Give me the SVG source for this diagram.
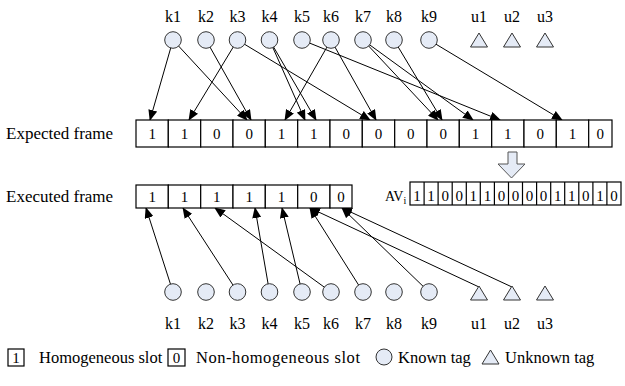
<svg xmlns="http://www.w3.org/2000/svg" width="625" height="386" viewBox="0 0 625 386">
  <defs>
    <marker id="arrow" markerUnits="userSpaceOnUse" markerWidth="11" markerHeight="9" refX="10" refY="4.5" orient="auto">
      <path d="M0,0 L11,4.5 L0,9 Z" fill="#000"/>
    </marker>
  </defs>
  <style>
    text { font-family: "Liberation Serif", "Times New Roman", serif; fill: #000; }
    .lbl { font-size: 16px; text-anchor: middle; }
    .big { font-size: 17px; }
    .dig { font-size: 15px; text-anchor: middle; }
    .leg { font-size: 16.5px; }
    .cell { fill: #fff; stroke: #000; stroke-width: 1.2; }
    .tag { fill: #e5ebf6; stroke: #333; stroke-width: 1; }
    .edge { stroke: #000; stroke-width: 1; fill: none; marker-end: url(#arrow); }
  </style>

  <rect width="625" height="386" fill="#fff"/>

  <!-- connectors: tags to expected slots, tags to executed slots -->
  <g id="connectors">
    <line class="edge" x1="173" y1="40" x2="150" y2="120"/>
    <line class="edge" x1="173" y1="40" x2="247" y2="120"/>
    <line class="edge" x1="206" y1="40" x2="251" y2="120"/>
    <line class="edge" x1="237.5" y1="40" x2="189" y2="120"/>
    <line class="edge" x1="237.5" y1="40" x2="370" y2="120"/>
    <line class="edge" x1="269.5" y1="40" x2="305" y2="120"/>
    <line class="edge" x1="269.5" y1="40" x2="316" y2="120"/>
    <line class="edge" x1="302" y1="40" x2="500" y2="120"/>
    <line class="edge" x1="331" y1="40" x2="285" y2="120"/>
    <line class="edge" x1="331" y1="40" x2="376" y2="120"/>
    <line class="edge" x1="363" y1="40" x2="438" y2="120"/>
    <line class="edge" x1="363" y1="40" x2="473" y2="120"/>
    <line class="edge" x1="394" y1="40" x2="442" y2="120"/>
    <line class="edge" x1="429" y1="40" x2="562" y2="120"/>

    <line class="edge" x1="173" y1="292" x2="146" y2="208"/>
    <line class="edge" x1="237.5" y1="292" x2="183" y2="208"/>
    <line class="edge" x1="331" y1="292" x2="215" y2="208"/>
    <line class="edge" x1="269.5" y1="292" x2="255" y2="208"/>
    <line class="edge" x1="302" y1="292" x2="282" y2="208"/>
    <line class="edge" x1="363" y1="292" x2="310" y2="208"/>
    <line class="edge" x1="479" y1="287" x2="310" y2="208"/>
    <line class="edge" x1="429" y1="292" x2="342" y2="208"/>
    <line class="edge" x1="512" y1="287" x2="342" y2="208"/>
  </g>

  <!-- top row of tags -->
  <g id="top-tags">
    <g id="top-k1"><circle class="tag" cx="173" cy="40" r="8.3"/><text class="lbl" x="173" y="22">k1</text></g>
    <g id="top-k2"><circle class="tag" cx="206" cy="40" r="8.3"/><text class="lbl" x="206" y="22">k2</text></g>
    <g id="top-k3"><circle class="tag" cx="237.5" cy="40" r="8.3"/><text class="lbl" x="237.5" y="22">k3</text></g>
    <g id="top-k4"><circle class="tag" cx="269.5" cy="40" r="8.3"/><text class="lbl" x="269.5" y="22">k4</text></g>
    <g id="top-k5"><circle class="tag" cx="302" cy="40" r="8.3"/><text class="lbl" x="302" y="22">k5</text></g>
    <g id="top-k6"><circle class="tag" cx="331" cy="40" r="8.3"/><text class="lbl" x="331" y="22">k6</text></g>
    <g id="top-k7"><circle class="tag" cx="363" cy="40" r="8.3"/><text class="lbl" x="363" y="22">k7</text></g>
    <g id="top-k8"><circle class="tag" cx="394" cy="40" r="8.3"/><text class="lbl" x="394" y="22">k8</text></g>
    <g id="top-k9"><circle class="tag" cx="429" cy="40" r="8.3"/><text class="lbl" x="429" y="22">k9</text></g>
    <g id="top-u1"><polygon class="tag" points="479,33 487.5,47 470.5,47"/><text class="lbl" x="479" y="22">u1</text></g>
    <g id="top-u2"><polygon class="tag" points="512,33 520.5,47 503.5,47"/><text class="lbl" x="512" y="22">u2</text></g>
    <g id="top-u3"><polygon class="tag" points="545,33 553.5,47 536.5,47"/><text class="lbl" x="545" y="22">u3</text></g>
  </g>

  <!-- expected frame -->
  <g id="expected-frame">
    <text class="big" x="6" y="139">Expected frame</text>
    <rect class="cell" x="136" y="120" width="32.3" height="27"/>
    <rect class="cell" x="168.3" y="120" width="32.4" height="27"/>
    <rect class="cell" x="200.7" y="120" width="32.3" height="27"/>
    <rect class="cell" x="233" y="120" width="32.3" height="27"/>
    <rect class="cell" x="265.3" y="120" width="32.4" height="27"/>
    <rect class="cell" x="297.7" y="120" width="32.3" height="27"/>
    <rect class="cell" x="330" y="120" width="32.3" height="27"/>
    <rect class="cell" x="362.3" y="120" width="32.4" height="27"/>
    <rect class="cell" x="394.7" y="120" width="32.3" height="27"/>
    <rect class="cell" x="427" y="120" width="32.3" height="27"/>
    <rect class="cell" x="459.3" y="120" width="32.4" height="27"/>
    <rect class="cell" x="491.7" y="120" width="32.3" height="27"/>
    <rect class="cell" x="524" y="120" width="32.3" height="27"/>
    <rect class="cell" x="556.3" y="120" width="32.4" height="27"/>
    <rect class="cell" x="588.7" y="120" width="23.3" height="27"/>
    <text class="dig" x="152.2" y="139">1</text>
    <text class="dig" x="184.5" y="139">1</text>
    <text class="dig" x="216.8" y="139">0</text>
    <text class="dig" x="249.2" y="139">0</text>
    <text class="dig" x="281.5" y="139">1</text>
    <text class="dig" x="313.8" y="139">1</text>
    <text class="dig" x="346.2" y="139">0</text>
    <text class="dig" x="378.5" y="139">0</text>
    <text class="dig" x="410.8" y="139">0</text>
    <text class="dig" x="443.2" y="139">0</text>
    <text class="dig" x="475.5" y="139">1</text>
    <text class="dig" x="507.8" y="139">1</text>
    <text class="dig" x="540.2" y="139">0</text>
    <text class="dig" x="572.5" y="139">1</text>
    <text class="dig" x="600.3" y="139">0</text>
  </g>

  <!-- block arrow down to the AV vector -->
  <g id="to-av">
    <path d="M508,152 H517 V164 H525 L511.5,178 L498,164 H508 Z" fill="#e5ebf6" stroke="#555" stroke-width="1"/>
  </g>

  <!-- executed frame -->
  <g id="executed-frame">
    <text class="big" x="6" y="202">Executed frame</text>
    <rect class="cell" x="136" y="185" width="32.3" height="23"/>
    <rect class="cell" x="168.3" y="185" width="32.4" height="23"/>
    <rect class="cell" x="200.7" y="185" width="32.3" height="23"/>
    <rect class="cell" x="233" y="185" width="32.3" height="23"/>
    <rect class="cell" x="265.3" y="185" width="32.4" height="23"/>
    <rect class="cell" x="297.7" y="185" width="32.3" height="23"/>
    <rect class="cell" x="330" y="185" width="22" height="23"/>
    <text class="dig" x="152.2" y="201.5">1</text>
    <text class="dig" x="184.5" y="201.5">1</text>
    <text class="dig" x="216.8" y="201.5">1</text>
    <text class="dig" x="249.2" y="201.5">1</text>
    <text class="dig" x="281.5" y="201.5">1</text>
    <text class="dig" x="313.8" y="201.5">0</text>
    <text class="dig" x="341" y="201.5">0</text>
  </g>

  <!-- AV_i vector -->
  <g id="av-vector">
    <text x="385" y="201" font-size="14">AV<tspan font-size="10" dy="3">i</tspan></text>
    <rect class="cell" x="410" y="182" width="211" height="23"/>
    <path d="M424.1,182 V205 M438.1,182 V205 M452.2,182 V205 M466.3,182 V205 M480.3,182 V205 M494.4,182 V205 M508.5,182 V205 M522.5,182 V205 M536.6,182 V205 M550.7,182 V205 M564.7,182 V205 M578.8,182 V205 M592.9,182 V205 M606.9,182 V205" stroke="#000" stroke-width="1.2"/>
    <text class="dig" x="417" y="200.5">1</text>
    <text class="dig" x="431.1" y="200.5">1</text>
    <text class="dig" x="445.2" y="200.5">0</text>
    <text class="dig" x="459.2" y="200.5">0</text>
    <text class="dig" x="473.3" y="200.5">1</text>
    <text class="dig" x="487.4" y="200.5">1</text>
    <text class="dig" x="501.4" y="200.5">0</text>
    <text class="dig" x="515.5" y="200.5">0</text>
    <text class="dig" x="529.6" y="200.5">0</text>
    <text class="dig" x="543.6" y="200.5">0</text>
    <text class="dig" x="557.7" y="200.5">1</text>
    <text class="dig" x="571.8" y="200.5">1</text>
    <text class="dig" x="585.8" y="200.5">0</text>
    <text class="dig" x="599.9" y="200.5">1</text>
    <text class="dig" x="614" y="200.5">0</text>
  </g>

  <!-- bottom row of tags -->
  <g id="bottom-tags">
    <g id="bot-k1"><circle class="tag" cx="173" cy="292" r="8.3"/><text class="lbl" x="173" y="329">k1</text></g>
    <g id="bot-k2"><circle class="tag" cx="206" cy="292" r="8.3"/><text class="lbl" x="206" y="329">k2</text></g>
    <g id="bot-k3"><circle class="tag" cx="237.5" cy="292" r="8.3"/><text class="lbl" x="237.5" y="329">k3</text></g>
    <g id="bot-k4"><circle class="tag" cx="269.5" cy="292" r="8.3"/><text class="lbl" x="269.5" y="329">k4</text></g>
    <g id="bot-k5"><circle class="tag" cx="302" cy="292" r="8.3"/><text class="lbl" x="302" y="329">k5</text></g>
    <g id="bot-k6"><circle class="tag" cx="331" cy="292" r="8.3"/><text class="lbl" x="331" y="329">k6</text></g>
    <g id="bot-k7"><circle class="tag" cx="363" cy="292" r="8.3"/><text class="lbl" x="363" y="329">k7</text></g>
    <g id="bot-k8"><circle class="tag" cx="394" cy="292" r="8.3"/><text class="lbl" x="394" y="329">k8</text></g>
    <g id="bot-k9"><circle class="tag" cx="429" cy="292" r="8.3"/><text class="lbl" x="429" y="329">k9</text></g>
    <g id="bot-u1"><polygon class="tag" points="479,286 487.5,300 470.5,300"/><text class="lbl" x="479" y="329">u1</text></g>
    <g id="bot-u2"><polygon class="tag" points="512,286 520.5,300 503.5,300"/><text class="lbl" x="512" y="329">u2</text></g>
    <g id="bot-u3"><polygon class="tag" points="545,286 553.5,300 536.5,300"/><text class="lbl" x="545" y="329">u3</text></g>
  </g>

  <!-- legend -->
  <g id="legend">
    <rect class="cell" x="8" y="349" width="16" height="17"/>
    <text class="dig" x="16" y="362.5">1</text>
    <text class="leg" x="39" y="363">Homogeneous slot</text>
    <rect class="cell" x="168" y="349" width="17" height="17"/>
    <text class="dig" x="176.5" y="362.5">0</text>
    <text class="leg" x="196" y="363" textLength="164">Non-homogeneous slot</text>
    <circle class="tag" cx="384" cy="357" r="8"/>
    <text class="leg" x="398" y="363">Known tag</text>
    <polygon class="tag" points="490.5,350 499,364 482,364"/>
    <text class="leg" x="505" y="363">Unknown tag</text>
  </g>
</svg>
